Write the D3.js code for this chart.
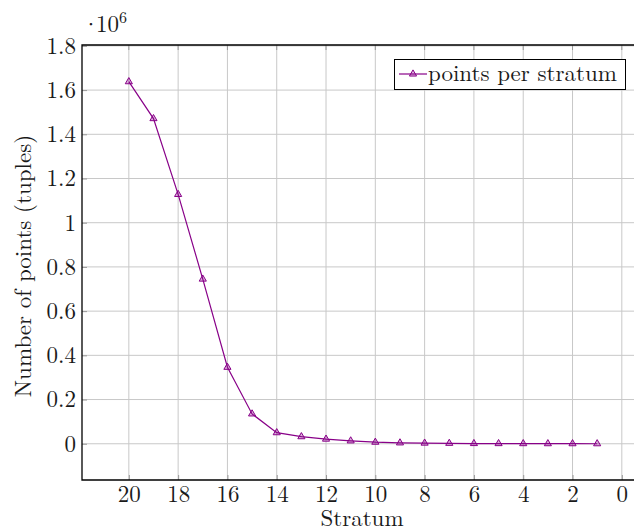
<!DOCTYPE html>
<html>
<head>
<meta charset="utf-8">
<script src="https://cdn.jsdelivr.net/npm/d3@7"></script>
<style>
  body { margin: 0; background: #fff; }
  svg { display: block; }
  .grid line { stroke: #c8c8c8; stroke-width: 1; }
</style>
</head>
<body>
<svg width="634" height="531"></svg>
<script>
// points per stratum, in units of 10^6
const strata = [20, 19, 18, 17, 16, 15, 14, 13, 12, 11, 10, 9, 8, 7, 6, 5, 4, 3, 2, 1]
const points = [1.638, 1.471, 1.128, 0.745, 0.346, 0.135, 0.050, 0.032, 0.021, 0.013,
                0.007, 0.004, 0.003, 0.002, 0.001, 0.0007, 0.0005, 0.0003, 0.0002, 0.0001]
const xTicks = [20, 18, 16, 14, 12, 10, 8, 6, 4, 2, 0]
const yTicks = [0, 0.2, 0.4, 0.6, 0.8, 1, 1.2, 1.4, 1.6, 1.8]

const color = "#880088"
const font = '"Latin Modern Roman", "Liberation Serif", serif'
const fs = "23px"
const ink = "#1a1a1a"
const pLeft = 82, pRight = 644, pTop = 45, pBottom = 480

const svg = d3.select("svg")

const x = d3.scaleLinear().domain([21.9, -0.9]).range([pLeft, pRight])
const y = d3.scaleLinear().domain([-0.164, 1.804]).range([pBottom, pTop])

// grid
const grid = svg.append("g").attr("class", "grid")
grid.selectAll(".gx").data(xTicks).enter().append("line")
    .attr("x1", d => x(d)).attr("x2", d => x(d))
    .attr("y1", pTop).attr("y2", pBottom)
grid.selectAll(".gy").data(yTicks).enter().append("line")
    .attr("y1", d => y(d)).attr("y2", d => y(d))
    .attr("x1", pLeft).attr("x2", pRight)

// axes (ticks inside)
const fmt = d => d === 0 ? "0" : d3.format("")(d)
const xAxis = svg.append("g")
    .attr("transform", `translate(0,${pBottom})`)
    .call(d3.axisBottom(x).tickValues(xTicks).tickSize(-5).tickPadding(6).tickFormat(fmt))
const yAxis = svg.append("g")
    .attr("transform", `translate(${pLeft},0)`)
    .call(d3.axisLeft(y).tickValues(yTicks).tickSize(-5).tickPadding(6).tickFormat(fmt))

// top ticks
svg.append("g").selectAll("line").data(xTicks).enter().append("line")
    .attr("x1", d => x(d)).attr("x2", d => x(d))
    .attr("y1", pTop).attr("y2", pTop + 5)
    .attr("stroke", "#999")

for (const ax of [xAxis, yAxis]) {
  ax.select(".domain").remove()
  ax.selectAll(".tick line").attr("stroke", "#999")
  ax.selectAll("text").style("font-family", font).style("font-size", fs).attr("fill", ink)
}
xAxis.selectAll("text").attr("dy", "0.71em")

// frame
svg.append("path")
    .attr("d", `M${pRight},${pTop}H${pLeft}V${pBottom}H${pRight}`)
    .attr("fill", "none").attr("stroke", "#000").attr("stroke-width", 1.3)

// line + markers
const line = d3.line().x((d, i) => x(strata[i])).y(d => y(d))
svg.append("path").datum(points)
    .attr("d", line).attr("fill", "none")
    .attr("stroke", color).attr("stroke-width", 1.2)

const tri = d3.symbol().type(d3.symbolTriangle).size(22)
svg.selectAll(".mk").data(points).enter().append("path")
    .attr("d", tri)
    .attr("transform", (d, i) => `translate(${x(strata[i])},${y(d)})`)
    .attr("fill", color).attr("fill-opacity", 0.3)
    .attr("stroke", color).attr("stroke-width", 1)

// multiplier label
const mult = svg.append("text").attr("x", 82).attr("y", 32)
    .style("font-family", font).style("font-size", fs).attr("fill", ink)
mult.append("tspan").text("·")
mult.append("tspan").attr("dx", -4).text("10")
mult.append("tspan").attr("dy", -9).style("font-size", "16px").text("6")

// axis titles
svg.append("text")
    .attr("x", 362).attr("y", 526)
    .attr("text-anchor", "middle")
    .style("font-family", font).style("font-size", fs).attr("fill", ink)
    .text("Stratum")
svg.append("text")
    .attr("transform", `translate(31,266) rotate(-90)`)
    .attr("text-anchor", "middle")
    .style("font-family", font).style("font-size", fs).attr("fill", ink)
    .text("Number of points (tuples)")

// legend
const lg = svg.append("g")
lg.append("rect").attr("x", 394.5).attr("y", 59.5).attr("width", 231).attr("height", 30)
    .attr("fill", "#fff").attr("stroke", "#000").attr("stroke-width", 1)
lg.append("line").attr("x1", 399).attr("x2", 427).attr("y1", 74).attr("y2", 74)
    .attr("stroke", color).attr("stroke-width", 1.2)
lg.append("path").attr("d", tri).attr("transform", "translate(413,74)")
    .attr("fill", color).attr("fill-opacity", 0.3).attr("stroke", color)
lg.append("text").attr("x", 428).attr("y", 81)
    .style("font-family", font).style("font-size", fs).attr("fill", ink)
    .text("points per stratum")
</script>
</body>
</html>
